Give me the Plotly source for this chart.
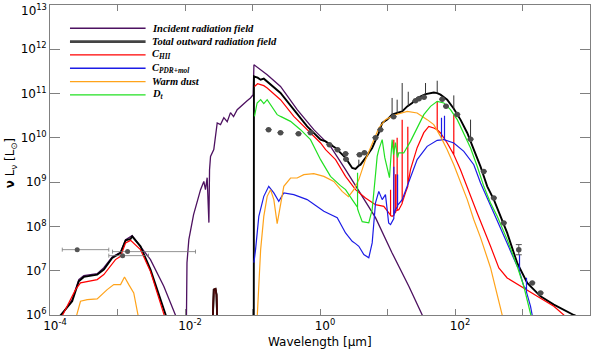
import plotly.graph_objects as go

# ---------------- data (wavelength in micron, nu L_nu in L_sun) ----------------
# Incident radiation field
inc_xray_lam = [1.35e-4, 2.13e-4, 2.67e-4, 3.17e-4, 5.0e-4, 6.27e-4, 8.34e-4, 1.11e-3, 1.32e-3, 1.65e-3, 3.08e-3, 4.85e-3, 7.65e-3]
inc_xray_L = [8e5, 2.23e6, 6.3e6, 7.75e6, 8.6e6, 1.17e7, 2.05e7, 2.6e7, 5.04e7, 6.2e7, 1.78e7, 4.45e6, 8e5]
inc_lam = [1.05e-2, 1.07e-2, 1.14e-2, 1.34e-2, 1.70e-2, 1.90e-2, 2.01e-2, 2.13e-2, 2.26e-2, 2.31e-2, 2.39e-2, 2.67e-2,
           3.0e-2, 3.36e-2, 3.76e-2, 4.22e-2, 4.72e-2, 5.24e-2, 5.93e-2, 6.64e-2, 7.43e-2, 8.33e-2, 9.33e-2, 1.023e-1,
           1.05e-1, 1.19e-1, 1.32e-1, 1.47e-1, 1.65e-1, 0.26, 0.459, 0.809, 1.43, 2.39, 3.76, 6.64, 11.7, 20.7, 32.7, 35.6]
inc_L = [8e5, 1.52e7, 5.04e7, 1.85e8, 6.77e8, 1.04e9, 6.77e8, 1.26e9, 1.22e8, 1.91e9, 3.82e9, 5.42e9,
         2.17e10, 1.99e10, 2.86e10, 2.32e10, 3.71e10, 3.01e10, 4.33e10, 5.06e10, 6.14e10, 6.92e10, 7.96e10, 9.44e10,
         4.49e11, 3.85e11, 3.46e11, 3.12e11, 2.67e11, 1.45e11, 4.33e10, 1.53e10, 6.43e9, 1.91e9, 6.19e8, 1.58e8, 2.52e7, 4.45e6, 1.0e6, 7.2e5]

# Total outward radiation field (continuum) and its emission lines
tot_xray_lam = [1.28e-4, 2.13e-4, 2.67e-4, 3.17e-4, 5.0e-4, 6.27e-4, 8.34e-4, 1.11e-3, 1.32e-3, 1.56e-3, 1.65e-3, 2.19e-3, 3.08e-3, 5.44e-3]
tot_xray_L = [8e5, 2.04e6, 5.77e6, 7.24e6, 8.17e6, 1.06e7, 1.95e7, 2.52e7, 4.85e7, 5.22e7, 5.98e7, 3.56e7, 1.06e7, 8e5]
bump_lam = [2.58e-2, 2.67e-2, 2.83e-2, 2.93e-2, 3.0e-2]
bump_L = [8e5, 3.74e6, 3.88e6, 2.88e6, 8e5]
tot_lam = [0.1045, 0.105, 0.119, 0.132, 0.147, 0.165, 0.26, 0.409, 0.645, 1.02, 1.21, 1.70, 2.39, 3.0, 3.36,
           3.76, 3.98, 4.72, 5.93, 7.43, 8.34, 9.9, 11.7, 13.9, 16.5, 19.6, 20.3, 23.2, 27.5,
           36.6, 48.5, 54.5, 61.0, 76.6, 96, 120.5, 152, 170,
           190, 239, 300, 376, 472, 593, 834, 1175, 1849, 2911, 5754, 7230]
tot_L = [8e5, 2.44e11, 2.29e11, 2.06e11, 2.17e11, 1.88e11, 1.03e11, 4.33e10, 1.82e10, 9.1e9, 8.34e9, 5.92e9, 3.52e9, 2.09e9, 1.99e9,
         2.36e9, 2.48e9, 3.52e9, 5.92e9, 1.29e10, 2.17e10, 2.58e10, 3.34e10, 3.65e10, 3.96e10, 5.14e10, 5.3e10, 6.14e10, 7.96e10,
         9.69e10, 1.06e11, 1.02e11, 9.44e10, 7.28e10, 4.56e10, 2.58e10, 1.29e10, 8.65e9,
         5.42e9, 2.24e9, 8.04e8, 4.03e8, 1.75e8, 7.13e7, 1.5e7, 5.31e6, 2.64e6, 1.72e6, 1.0e6, 8.7e5]
tot_line_lam = [3.76, 11.7, 13.9, 16.5, 20.3, 36.6, 54.5, 96, 170]
tot_line_base = [2.36e9, 3.34e10, 3.65e10, 3.96e10, 5.3e10, 9.69e10, 1.02e11, 4.56e10, 8.65e9]
tot_line_peak = [3.22e9, 7.96e10, 7.28e10, 1.73e11, 1.10e11, 1.73e11, 1.95e11, 9.1e10, 2.58e10]

# C_HII
hii_xray_lam = [1.43e-4, 2.39e-4, 2.83e-4, 5.0e-4, 6.27e-4, 9.33e-4, 1.11e-3, 1.32e-3, 1.56e-3, 2.19e-3, 3.08e-3, 5.14e-3]
hii_xray_L = [8e5, 3.74e6, 5.31e6, 6.3e6, 8.17e6, 1.78e7, 2.11e7, 4.25e7, 4.85e7, 2.99e7, 9.55e6, 8e5]
hii_lam = [0.107, 0.119, 0.132, 0.147, 0.165, 0.26, 0.409, 0.645, 1.02, 1.21, 1.70, 2.39, 3.36, 4.72, 6.64, 8.81, 10.4,
           11.1, 11.1, 11.1, 11.7, 12.4, 12.4, 12.4, 13.2, 13.2, 13.2, 13.9, 13.9, 13.9, 14.7, 16.5, 16.5, 16.5, 18.5,
           20.0, 20.0, 20.0, 21.9, 27.5, 34.5, 40.9, 48.5, 54.5, 54.5, 54.5, 61.0, 76.6, 96, 96, 96, 120.5, 152, 213,
           336, 446, 593, 933, 1652, 2911, 4093, 5140]
hii_L = [1.45e11, 1.67e11, 1.59e11, 1.51e11, 1.34e11, 7.28e10, 3.05e10, 1.53e10, 7.67e9, 5.42e9, 3.22e9, 1.35e9, 6.77e8, 4.40e8, 3.10e8, 2.84e8, 2.02e8,
         1.8e8, 6.77e8, 1.75e8, 1.69e8, 1.8e8, 9.1e9, 1.9e8, 2.1e8, 1.5e9, 2.2e8, 2.3e8, 1.01e10, 2.3e8, 2.39e8, 3.3e8, 2.58e10, 3.4e8, 5.79e8,
         8e8, 1.79e10, 8.5e8, 1.91e9, 6.01e9, 1.31e10, 1.82e10, 1.67e10, 1.53e10, 6.67e10, 1.53e10, 1.29e10, 7.67e9, 4.18e9, 3.34e10, 4.18e9, 1.91e9, 7.52e8, 2.02e8,
         3.56e7, 1.16e7, 6.87e6, 4.45e6, 2.64e6, 1.57e6, 1.0e6, 7.9e5]

# C_PDR+mol
pdr_lam = [0.105, 0.111, 0.124, 0.147, 0.174, 0.207, 0.245, 0.291, 0.409, 0.645, 1.14, 1.80, 2.39, 3.0, 3.36, 3.76, 4.46, 5.28,
           5.93, 6.64, 7.43, 8.34, 9.33, 10.4, 11.1, 12.4, 12.4, 12.4, 13.1, 14.1, 14.1, 14.1, 16.5, 19.6, 27.5, 38.7, 54.5,
           63.1, 63.1, 63.1, 68.2, 69.9, 69.9, 69.9, 96, 135, 190, 239, 376, 593, 834, 903, 903, 903, 1045, 1146, 1146, 1146,
           1315, 1393, 1432]
pdr_L = [1.52e7, 2.99e7, 1.69e8, 4.78e8, 8.04e8, 5.70e8, 3.69e8, 5.70e8, 5.22e8, 4.03e8, 2.19e8, 1.58e8, 7.13e7, 4.61e7, 4.09e7, 3.56e7, 2.31e7, 1.95e7,
         4.25e7, 3.39e8, 6.19e8, 4.03e8, 5.22e8, 1.2e8, 1.10e8, 1.5e8, 2.24e9, 1.7e8, 2.39e8, 2.8e8, 1.48e9, 3.0e8, 4.03e8, 8.04e8, 3.22e9, 6.43e9, 8.79e9,
         9.0e9, 2.86e10, 9.0e9, 9.1e9, 9.1e9, 3.17e10, 9.0e9, 7.67e9, 4.96e9, 2.48e9, 9.6e8, 2.02e8, 4.25e7, 1.26e7, 1.1e7, 2.31e7, 9.5e6, 4.45e6, 3.8e6, 6.98e6, 3.3e6,
         1.57e6, 1.0e6, 7.9e5]

# Warm dust
wd_xray_lam = [2.39e-4, 2.83e-4, 3.56e-4, 5.0e-4, 7.03e-4, 8.81e-4, 1.11e-3, 1.27e-3, 1.47e-3, 1.74e-3, 2.07e-3]
wd_xray_L = [8e5, 2.04e6, 2.23e6, 2.31e6, 3.74e6, 4.85e6, 4.85e6, 7.24e6, 4.85e6, 3.15e6, 8e5]
wd_lam = [0.117, 0.132, 0.147, 0.165, 0.185, 0.207, 0.232, 0.26, 0.291, 0.366, 0.459, 0.575, 0.809, 1.14, 1.60, 2.13, 2.64,
          3.17, 3.76, 4.72, 5.93, 7.43, 9.33, 12.4, 19.6, 27.5, 38.7, 48.5, 61.0, 76.6, 96, 120.5, 152, 190, 239, 336, 500, 524]
wd_L = [8e5, 2.99e7, 1.69e8, 4.78e8, 6.77e8, 4.03e8, 1.16e8, 3.39e8, 8.04e8, 1.24e9, 1.24e9, 1.48e9, 1.56e9, 1.35e9, 1.04e9, 6.19e8, 4.71e8,
        6.77e8, 1.14e9, 3.22e9, 7.67e9, 1.67e10, 2.58e10, 3.25e10, 3.96e10, 3.65e10, 2.58e10, 1.99e10, 1.08e10, 5.42e9, 2.48e9, 1.03e9, 4.03e8, 1.42e8, 5.58e7, 1.17e7, 1.0e6, 7.5e5]

# D_t
dt_lam = [0.107, 0.117, 0.132, 0.147, 0.165, 0.185, 0.232, 0.26, 0.366, 0.514, 0.723, 1.02, 1.43, 2.01, 2.39, 3.0, 3.36,
          3.60, 3.60, 3.60, 3.76, 4.22, 5.28, 5.93, 6.64, 7.03, 7.43, 8.34, 9.12, 9.9, 10.7, 11.7, 12.3, 13.1, 14.1, 14.7, 17.4,
          21.9, 27.5, 34.5, 43.4, 54.5, 68.2, 85.7, 108, 135, 170, 213, 267, 336, 422, 593, 834, 1045, 1346, 1406]
dt_L = [3.05e10, 6.14e10, 7.28e10, 5.92e10, 7.28e10, 5.61e10, 3.34e10, 3.05e10, 2.36e10, 1.53e10, 9.1e9, 3.22e9, 1.35e9, 8.34e8, 6.77e8, 4.03e8, 3.10e8,
        2.7e8, 1.64e9, 2.5e8, 2.05e8, 1.28e8, 1.2e8, 2.39e8, 1.48e9, 3.82e9, 5.42e9, 9.1e9, 3.57e9, 1.91e9, 1.26e9, 9.1e9, 4.18e9, 7.78e9, 3.57e9, 4.56e9, 4.56e9,
        8.34e9, 1.70e10, 3.34e10, 5.14e10, 6.67e10, 6.14e10, 4.33e10, 2.58e10, 1.29e10, 5.92e9, 2.28e9, 8.04e8, 3.39e8, 1.69e8, 5.04e7, 1.26e7, 4.45e6, 1.0e6, 7.1e5]

# Observed photometry
xray_obs_lam = [2.53e-4, 1.19e-3, 1.41e-3]
xray_obs_L = [2.99e7, 2.19e7, 2.70e7]
xray_obs_lam_lo = [1.52e-4, 7.43e-4, 8.43e-4]
xray_obs_lam_hi = [7.43e-4, 2.88e-3, 1.43e-2]
obs_lam = [0.173, 0.26, 0.48, 0.723, 1.38, 1.82, 2.39, 2.43, 3.85, 4.56, 6.64, 7.87, 12.3, 26.0, 29.3, 34.8,
           64.6, 73.6, 108, 170, 267, 376, 528, 881, 1393, 1849]
obs_L = [1.53e10, 1.31e10, 1.24e10, 1.31e10, 7.03e9, 5.42e9, 4.40e9, 3.30e9, 4.18e9, 4.63e9, 1.01e10, 1.53e10, 3.01e10, 6.92e10, 7.67e10, 8.3e10,
         7.48e10, 5.2e10, 3.39e10, 9.35e9, 1.75e9, 4.40e8, 1.2e8, 2.99e7, 5.31e6, 3.15e6]
obs_err_hi = [0] * 23 + [0.9e7, 0, 0]
obs_err_lo = [0] * 23 + [0.7e7, 0, 0]

legend_labels = ["<b><i>Incident radiation field</i></b>", "<b><i>Total outward radiation field</i></b>",
                 "<b><i>C<sub>HII</sub></i></b>", "<b><i>C<sub>PDR+mol</sub></i></b>", "<b><i>Warm dust</i></b>",
                 "<b><i>D<sub>t</sub></i></b>"]
x_tickvals = [1e-4, 1e-2, 1e0, 1e2, 1e4]
x_ticktext = ["10<sup>-4</sup>", "10<sup>-2</sup>", "10<sup>0</sup>", "10<sup>2</sup>", "10<sup>4</sup>"]
x_minorvals = [1e-3, 1e-1, 1e1, 1e3]
y_tickvals = [1e6, 1e7, 1e8, 1e9, 1e10, 1e11, 1e12, 1e13]
y_ticktext = ["10<sup>6</sup>", "10<sup>7</sup>", "10<sup>8</sup>", "10<sup>9</sup>", "10<sup>10</sup>",
              "10<sup>11</sup>", "10<sup>12</sup>", ""]
y_top_label = "10<sup>13</sup>"

# ---------------- styles ----------------
C_INC = "#4d1160"
C_TOT = "#000000"
C_HII = "#ff0000"
C_PDR = "#1c1ce6"
C_WD = "#ffa31a"
C_DT = "#22e022"
FONT = "DejaVu Sans"


def join(*segs):
    xs, ys = [], []
    for i, (a, b) in enumerate(segs):
        if i:
            xs.append(None)
            ys.append(None)
        xs += list(a)
        ys += list(b)
    return xs, ys


fig = go.Figure()

# emission lines of total field (thin)
sx, sy = [], []
for lam, b, p in zip(tot_line_lam, tot_line_base, tot_line_peak):
    sx += [lam, lam, None]
    sy += [b, p, None]

series = [
    (join((inc_xray_lam, inc_xray_L), (inc_lam, inc_L)), C_INC, 1.3),
    (join((tot_xray_lam, tot_xray_L), (bump_lam, bump_L), (tot_lam, tot_L)), C_TOT, 1.9),
    ((sx, sy), "#333333", 1.0),
    (join((hii_xray_lam, hii_xray_L), (bump_lam, bump_L), (hii_lam, hii_L)), C_HII, 1.2),
    (join((pdr_lam, pdr_L)), C_PDR, 1.2),
    (join((wd_xray_lam, wd_xray_L), (wd_lam, wd_L)), C_WD, 1.2),
    (join((dt_lam, dt_L)), C_DT, 1.2),
]
for (xs, ys), col, w in series:
    fig.add_trace(go.Scatter(x=xs, y=ys, mode="lines", line=dict(color=col, width=w),
                             hoverinfo="skip", showlegend=False))

fig.add_trace(go.Scatter(x=bump_lam, y=bump_L, mode="lines", line=dict(color="#3a0808", width=1.8),
                         showlegend=False, hoverinfo="skip"))

fig.add_trace(go.Scatter(
    x=xray_obs_lam, y=xray_obs_L, mode="markers",
    marker=dict(color="#555555", size=5),
    error_x=dict(type="data", symmetric=False,
                 array=[h - c for h, c in zip(xray_obs_lam_hi, xray_obs_lam)],
                 arrayminus=[c - l for l, c in zip(xray_obs_lam_lo, xray_obs_lam)],
                 color="#777777", thickness=0.8, width=2),
    showlegend=False))
fig.add_trace(go.Scatter(
    x=obs_lam, y=obs_L, mode="markers",
    marker=dict(color="#4d4d4d", size=5.5),
    error_y=dict(type="data", symmetric=False, array=obs_err_hi, arrayminus=obs_err_lo,
                 color="#555555", thickness=1, width=3),
    showlegend=False))

# manual legend
leg_cols = [C_INC, "#444444", C_HII, C_PDR, C_WD, C_DT]
leg_w = [1.5, 2.6, 1.3, 1.3, 1.3, 1.3]
leg_y = [0.925, 0.882, 0.839, 0.796, 0.753, 0.710]
shapes = []
annotations = []
for lab, col, w, yy in zip(legend_labels, leg_cols, leg_w, leg_y):
    shapes.append(dict(type="line", xref="paper", yref="paper", x0=0.037, x1=0.177, y0=yy, y1=yy,
                       line=dict(color=col, width=w)))
    annotations.append(dict(xref="paper", yref="paper", x=0.186, y=yy, text=lab, showarrow=False,
                            xanchor="left", yanchor="middle",
                            font=dict(family="Liberation Serif", size=10.5, color="black")))

# axis titles and top tick label
annotations.append(dict(xref="paper", yref="paper", x=0.5, y=-0.088, text="Wavelength [μm]", showarrow=False,
                        xanchor="center", yanchor="middle", font=dict(family=FONT, size=12, color="black")))
annotations.append(dict(xref="paper", yref="paper", x=-0.072, y=0.49, text="<b>ν</b> L<sub>ν</sub> [L<sub>⊙</sub>]",
                        showarrow=False, textangle=-90, xanchor="center", yanchor="middle",
                        font=dict(family=FONT, size=12, color="black")))
annotations.append(dict(xref="paper", yref="paper", x=-0.004, y=1, text=y_top_label, showarrow=False,
                        xanchor="right", yanchor="top", yshift=4, borderpad=0,
                        font=dict(family=FONT, size=12, color="black")))

axis_common = dict(showgrid=False, zeroline=False, showline=True, linecolor="#808080", linewidth=1,
                   mirror="ticks", ticks="inside", tickcolor="#808080", automargin=False,
                   tickfont=dict(family=FONT, size=12, color="black"))

fig.update_layout(
    width=600, height=351,
    margin=dict(l=50, r=10, t=5, b=36),
    paper_bgcolor="white", plot_bgcolor="white",
    shapes=shapes, annotations=annotations,
    xaxis=dict(type="log", range=[-4, 4], tickvals=x_tickvals, ticktext=x_ticktext, ticklen=6,
               ticklabelshift=5,
               minor=dict(tickvals=x_minorvals, ticks="inside", ticklen=6, tickcolor="#808080"),
               **axis_common),
    yaxis=dict(type="log", range=[6, 13], tickvals=y_tickvals, ticktext=y_ticktext, ticklen=10,
               **axis_common),
)

fig.write_html("out.html", config={"displayModeBar": False},
               post_script="document.body.style.margin='0';document.body.style.padding='0';"
                           "document.body.style.overflow='hidden';")
